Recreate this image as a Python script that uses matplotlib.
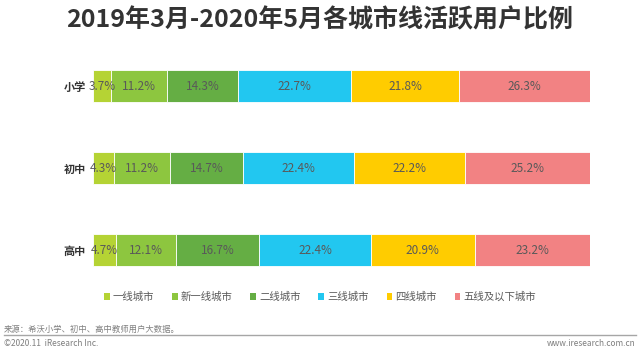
import numpy as np
import matplotlib
matplotlib.use("Agg")
import matplotlib.pyplot as plt
from matplotlib.patches import Patch

plt.rcParams['font.family'] = ['Noto Sans CJK SC', 'DejaVu Sans']

# data
schools = ["小学", "初中", "高中"]
tiers = ["一线城市", "新一线城市", "二线城市", "三线城市", "四线城市", "五线及以下城市"]
tier1 = [3.7, 4.3, 4.7]
new_tier1 = [11.2, 11.2, 12.1]
tier2 = [14.3, 14.7, 16.7]
tier3 = [22.7, 22.4, 22.4]
tier4 = [21.8, 22.2, 20.9]
tier5 = [26.3, 25.2, 23.2]
series = [tier1, new_tier1, tier2, tier3, tier4, tier5]
colors = ["#b5d334", "#8dc63f", "#65ae44", "#22c7f0", "#ffcc00", "#f28283"]

fig = plt.figure(figsize=(6.4, 3.55), dpi=100)
ax = fig.add_axes([93/640, 1 - 291/355, (590 - 93)/640, 246/355])

y = np.arange(len(schools))
left = np.zeros(len(schools))
for vals, c in zip(series, colors):
    vals = np.array(vals)
    ax.barh(y, vals, left=left, height=0.39, color=c, edgecolor="white",
            linewidth=0.6)
    for yi, (l, v) in enumerate(zip(left, vals)):
        ax.text(l + v / 2, yi, f"{v:.1f}%", ha="center", va="center",
                fontsize=8.5, color="#595959")
    left += vals

ax.set_xlim(0, 100)
ax.set_ylim(2.5, -0.5)
ax.set_yticks(y)
ax.set_yticklabels(schools, fontsize=8, color="#333333", fontweight="bold")
ax.tick_params(axis="y", length=0, pad=5)
ax.set_xticks([])
for s in ax.spines.values():
    s.set_visible(False)

fig.text(0.5, 1 - 20/355, "2019年3月-2020年5月各城市线活跃用户比例",
         ha="center", va="center", fontsize=18, fontweight="bold",
         color="#333333")

handles = [Patch(facecolor=c, edgecolor="none") for c in colors]
fig.legend(handles, tiers, loc="center", bbox_to_anchor=(0.5, 1 - 297/355),
           ncol=6, frameon=False, fontsize=7.5, handlelength=0.55,
           handleheight=0.55, handletextpad=0.3, columnspacing=1.7,
           labelcolor="#595959")

fig.text(4/640, 1 - 329/355, "来源：希沃小学、初中、高中教师用户大数据。",
         ha="left", va="center", fontsize=6, color="#7f7f7f")
fig.add_artist(plt.Line2D([4/640, 636/640], [1 - 334.5/355, 1 - 334.5/355],
                          color="#a6a6a6", linewidth=1))
fig.text(4/640, 1 - 343/355, "©2020.11  iResearch Inc.",
         ha="left", va="center", fontsize=6, color="#7f7f7f")
fig.text(636/640, 1 - 343/355, "www.iresearch.com.cn",
         ha="right", va="center", fontsize=6, color="#7f7f7f")

fig.savefig("out.png", dpi=100)
